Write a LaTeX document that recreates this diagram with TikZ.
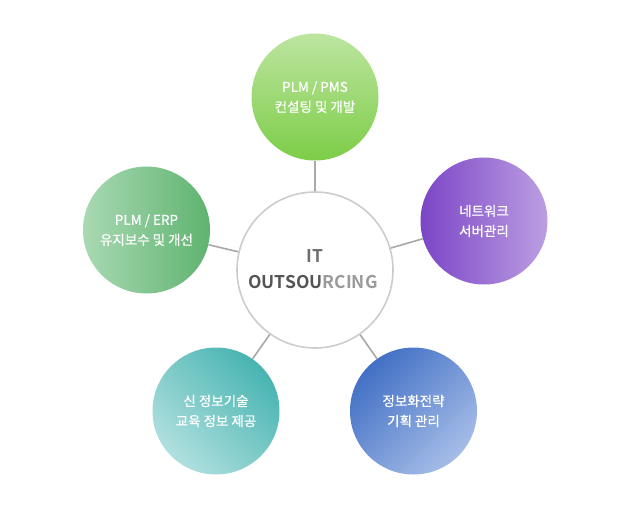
\documentclass[tikz,border=0pt]{standalone}
\usepackage{fontspec}
\setmainfont{Noto Sans CJK KR}[FakeBold=0.6]
\newfontfamily\krbold{Noto Sans CJK KR Bold}
\usetikzlibrary{shapes.geometric}
\definecolor{linkgray}{HTML}{A8A8A8}
\definecolor{ringgray}{HTML}{CCCCCC}
\definecolor{darktxt}{HTML}{555555}
\definecolor{lighttxt}{HTML}{9A9A9A}
\definecolor{ittxt}{HTML}{6E6E6E}
\definecolor{gTopA}{HTML}{BDE5A0}\definecolor{gTopB}{HTML}{7DCD48}
\definecolor{gLeftA}{HTML}{A9D9B3}\definecolor{gLeftB}{HTML}{5FB370}
\definecolor{pLeft}{HTML}{7B45C6}\definecolor{pRight}{HTML}{BC9FE2}
\definecolor{tDark}{HTML}{48B4B1}\definecolor{tLight}{HTML}{B0E0DF}
\definecolor{bDark}{HTML}{4270C5}\definecolor{bLight}{HTML}{A6BDE8}
\tikzset{
  bubble/.style={circle, minimum size=127pt, inner sep=0pt, text=white,
    align=center, font=\fontsize{13.5}{20}\selectfont},
  hub/.style={circle, minimum size=156pt, inner sep=0pt, fill=white,
    draw=ringgray, line width=1.6pt},
  link/.style={draw=linkgray, line width=1.6pt},
  hubtext/.style={font=\krbold\fontsize{17.5}{17.5}\selectfont, inner sep=0pt}
}
\begin{document}
\begin{tikzpicture}[x=1pt,y=-1pt]
\useasboundingbox (0,0) rectangle (630,515);
\node[hub] (hub) at (315,270) {};
\node[hubtext, text=ittxt] (it) at (315,256.5) {IT};
\node[hubtext, text=darktxt] (out) at (313,282) {OUTSOU\textcolor{lighttxt}{RCING}};
\node[bubble, top color=gTopA, bottom color=gTopB] (top) at (315,97) {PLM / PMS\\컨설팅 및 개발};
\node[bubble, left color=gLeftA, right color=gLeftB] (left) at (146.5,230) {PLM / ERP\\유지보수 및 개선};
\node[bubble, left color=pLeft, right color=pRight] (right) at (484,221) {네트워크\\서버관리};
\node[bubble, top color=tDark, bottom color=tLight, shading angle=-45] (bl) at (216,411) {신 정보기술\\교육 정보 제공};
\node[bubble, top color=bDark, bottom color=bLight, shading angle=45] (br) at (413.5,411) {정보화전략\\기획 관리};
\draw[link] (hub) -- (top);
\draw[link] (hub) -- (left);
\draw[link] (hub) -- (right);
\draw[link] (hub) -- (bl);
\draw[link] (hub) -- (br);
\end{tikzpicture}
\end{document}
